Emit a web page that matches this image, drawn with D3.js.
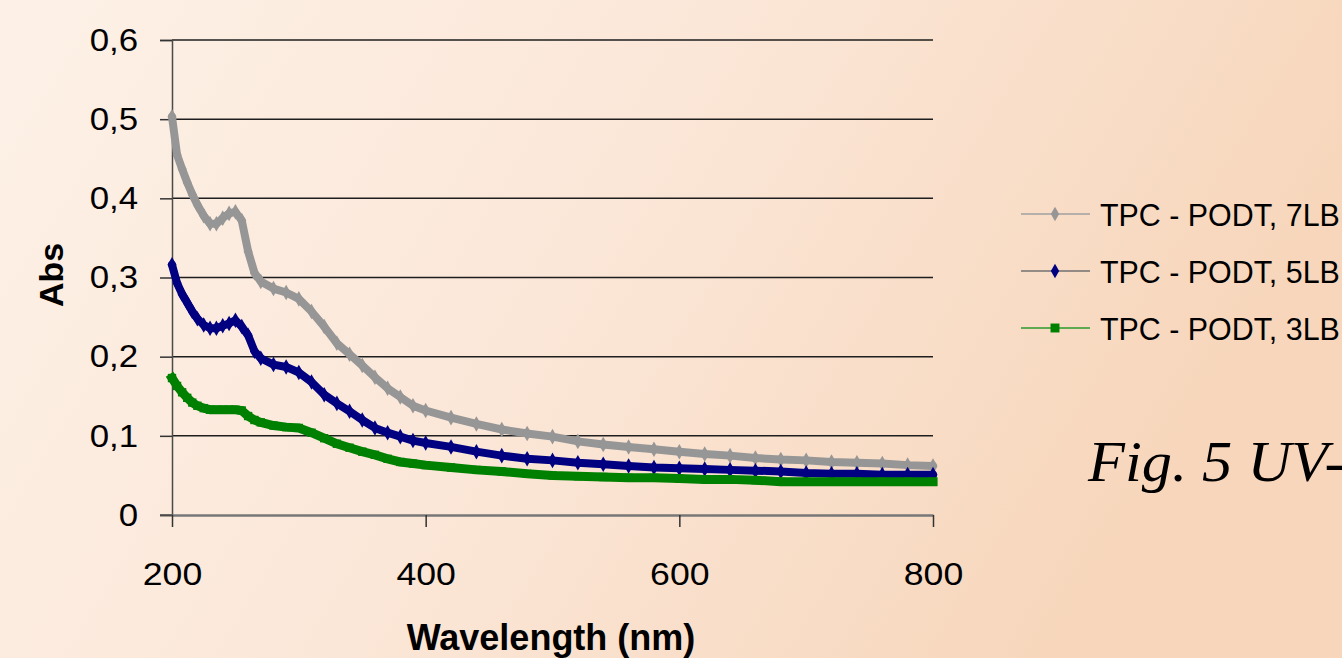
<!DOCTYPE html>
<html>
<head>
<meta charset="utf-8">
<script src="https://cdn.jsdelivr.net/npm/d3@7"></script>
<style>
  body { margin: 0; overflow: hidden; }
  svg { display: block; }
</style>
</head>
<body>
<div id="uvGraph"></div>
<script>
// data
var wavelength = [200, 204, 208, 212, 216, 220, 225, 230, 235, 240, 245, 250, 255, 260, 265, 270, 280, 290, 300,
    310, 320, 330, 340, 350, 360, 370, 380, 390, 400, 420, 440, 460, 480, 500, 520, 540, 560, 580, 600,
    620, 640, 660, 680, 700, 720, 740, 760, 780, 800];
var abs7LB = [0.503, 0.455, 0.437, 0.420, 0.405, 0.392, 0.378, 0.368, 0.368, 0.375, 0.381, 0.383, 0.372, 0.333, 0.306, 0.295, 0.286, 0.281, 0.273,
    0.257, 0.238, 0.217, 0.203, 0.189, 0.174, 0.160, 0.149, 0.138, 0.132, 0.123, 0.115, 0.108, 0.103, 0.099, 0.093, 0.089, 0.086, 0.083, 0.080,
    0.077, 0.075, 0.072, 0.070, 0.069, 0.067, 0.066, 0.065, 0.063, 0.062];
var abs5LB = [0.316, 0.293, 0.279, 0.268, 0.257, 0.248, 0.240, 0.236, 0.236, 0.239, 0.242, 0.246, 0.238, 0.227, 0.207, 0.198, 0.190, 0.187, 0.180,
    0.168, 0.152, 0.141, 0.131, 0.120, 0.110, 0.104, 0.099, 0.094, 0.091, 0.086, 0.080, 0.075, 0.071, 0.069, 0.066, 0.064, 0.062, 0.060, 0.059,
    0.058, 0.057, 0.056, 0.055, 0.053, 0.052, 0.052, 0.051, 0.051, 0.051];
var abs3LB = [0.173, 0.163, 0.155, 0.148, 0.142, 0.138, 0.135, 0.133, 0.133, 0.133, 0.133, 0.133, 0.132, 0.125, 0.120, 0.117, 0.113, 0.111, 0.110,
    0.104, 0.097, 0.090, 0.085, 0.080, 0.076, 0.071, 0.067, 0.065, 0.063, 0.060, 0.057, 0.055, 0.052, 0.050, 0.049, 0.048, 0.047, 0.047, 0.046,
    0.045, 0.045, 0.044, 0.042, 0.042, 0.042, 0.042, 0.042, 0.042, 0.042];
var seriesNames = ["TPC - PODT, 7LB", "TPC - PODT, 5LB", "TPC - PODT, 3LB"];
var xTicks = [200, 400, 600, 800];
var yTicks = [0, 0.1, 0.2, 0.3, 0.4, 0.5, 0.6];

var series = [
    { name: seriesNames[0], values: abs7LB, color: "#969696", legendLine: "#a0a0a0", marker: d3.symbolDiamond },
    { name: seriesNames[1], values: abs5LB, color: "#000080", legendLine: "#707070", marker: d3.symbolDiamond },
    { name: seriesNames[2], values: abs3LB, color: "#008000", legendLine: "#2a9a2a", marker: d3.symbolSquare }
];

var W = 1342, H = 658;
var sans = "'Liberation Sans', Arial, sans-serif";
var svg = d3.select("#uvGraph")
    .append("svg")
    .attr("width", W)
    .attr("height", H);

// slide background
var defs = svg.append("defs");
var grad = defs.append("linearGradient").attr("id", "bg").attr("x1", "0").attr("x2", "1").attr("y1", "0").attr("y2", "0.3");
grad.append("stop").attr("offset", "0").attr("stop-color", "#fdf1e7");
grad.append("stop").attr("offset", "0.5").attr("stop-color", "#fbe7d8");
grad.append("stop").attr("offset", "1").attr("stop-color", "#f7d6bb");
svg.append("rect").attr("width", W).attr("height", H).attr("fill", "url(#bg)");

var x = d3.scaleLinear().domain([200, 800]).range([172, 933]);
var y = d3.scaleLinear().domain([0, 0.6]).range([515, 40]);

// gridlines
svg.append("g")
    .selectAll("line.grid")
    .data(yTicks.slice(1))
    .enter()
    .append("line")
    .attr("class", "grid")
    .attr("x1", x(200)).attr("x2", x(800))
    .attr("y1", function (d) { return y(d) })
    .attr("y2", function (d) { return y(d) })
    .attr("stroke", "#1e1e1e")
    .attr("stroke-width", 1.5);

var commaFmt = function (d) { return d === 0 ? "0" : d3.format(".1f")(d).replace(".", ",") };

// Y axis
var yAxis = svg.append("g")
    .attr("transform", "translate(" + x(200) + ",0)")
    .call(d3.axisLeft(y).tickValues(yTicks).tickSize(12).tickPadding(19).tickFormat(commaFmt));
yAxis.select(".domain").attr("stroke", "#4a4a4a").attr("stroke-width", 1.5);
yAxis.selectAll(".tick line").attr("stroke", "#333").attr("stroke-width", 1.5);
yAxis.selectAll("text")
    .style("font-family", sans)
    .style("font-size", "32px")
    .attr("transform", "scale(1.09,1)")
    .attr("fill", "#000");

// X axis
var xAxis = svg.append("g")
    .attr("transform", "translate(0," + y(0) + ")")
    .call(d3.axisBottom(x).tickValues(xTicks).tickSize(12).tickPadding(36).tickSizeOuter(0));
xAxis.select(".domain").attr("stroke", "#777").attr("stroke-width", 2.5);
xAxis.selectAll(".tick line").attr("stroke", "#333").attr("stroke-width", 1.5);
xAxis.selectAll("text")
    .style("font-family", sans)
    .style("font-size", "31px")
    .attr("transform", "scale(1.15,1)")
    .attr("fill", "#000");
// axis line extends to the left tick
svg.append("line")
    .attr("x1", 160).attr("x2", x(200))
    .attr("y1", y(0)).attr("y2", y(0))
    .attr("stroke", "#555").attr("stroke-width", 1.5);

// the lines (dense markers look like thick strokes)
series.forEach(function (s) {
    var pts = wavelength.map(function (w, i) { return { w: w, v: s.values[i] } });
    var sq = s.marker === d3.symbolSquare;
    svg.append("path")
        .datum(pts)
        .attr("fill", "none")
        .attr("stroke", s.color)
        .attr("stroke-width", sq ? 9 : 8)
        .attr("stroke-linejoin", sq ? "miter" : "round")
        .attr("stroke-linecap", sq ? "square" : "round")
        .attr("d", d3.line()
            .x(function (d) { return x(d.w) })
            .y(function (d) { return y(d.v) }));
    svg.append("g")
        .selectAll("path.mk")
        .data(pts)
        .enter()
        .append("path")
        .attr("class", "mk")
        .attr("transform", function (d) { return "translate(" + x(d.w) + "," + y(d.v) + ")" })
        .attr("d", d3.symbol().type(s.marker).size(70))
        .attr("fill", s.color);
});

// axis titles
svg.append("text")
    .attr("transform", "translate(63,275) rotate(-90)")
    .attr("text-anchor", "middle")
    .style("font-family", sans)
    .style("font-weight", "bold")
    .style("font-size", "34px")
    .text("Abs");
svg.append("text")
    .attr("x", 551).attr("y", 650)
    .attr("text-anchor", "middle")
    .style("font-family", sans)
    .style("font-weight", "bold")
    .style("font-size", "36px")
    .text("Wavelength (nm)");

// legend
var legend = svg.append("g")
    .selectAll("g.leg")
    .data(series)
    .enter()
    .append("g")
    .attr("class", "leg")
    .attr("transform", function (d, i) { return "translate(1021," + (214 + i * 57) + ")" });
legend.append("line")
    .attr("x1", 0).attr("x2", 69)
    .attr("stroke", function (d) { return d.legendLine })
    .attr("stroke-width", 1.5);
legend.append("path")
    .attr("transform", "translate(34,0)")
    .attr("d", function (d) { return d3.symbol().type(d.marker).size(d.marker === d3.symbolSquare ? 80 : 60)() })
    .attr("fill", function (d) { return d.color });
legend.append("text")
    .attr("transform", "translate(79,12) scale(0.95,1)")
    .style("font-family", sans)
    .style("font-size", "32px")
    .text(function (d) { return d.name });

// slide caption, cut by the right edge as on the slide
svg.append("text")
    .attr("transform", "translate(1088,481) scale(1.06,1)")
    .style("font-family", "'Liberation Serif', 'Times New Roman', serif")
    .style("font-style", "italic")
    .style("font-size", "57px")
    .text("Fig. 5 UV-Vis");
</script>
</body>
</html>
